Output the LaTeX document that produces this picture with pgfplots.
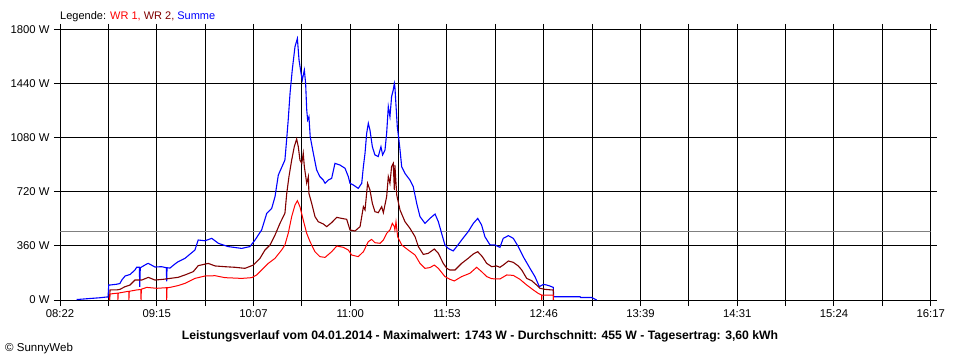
\documentclass[border=0pt]{standalone}
\usepackage{fontspec}
\setmainfont{Liberation Sans}
\usepackage{pgfplots}
\pgfplotsset{compat=1.18}
\definecolor{wrone}{RGB}{255,0,0}
\definecolor{wrtwo}{RGB}{128,0,0}
\definecolor{summe}{RGB}{0,0,255}
\definecolor{avg}{RGB}{128,128,128}
\begin{document}
\begin{tikzpicture}[font=\fontsize{11bp}{13bp}\selectfont]
\useasboundingbox (0,0) rectangle (960bp,360bp);
\begin{axis}[
  at={(60bp,60bp)}, anchor=south west,
  scale only axis, width=870.7bp, height=270bp,
  xmin=502, xmax=977, ymin=0, ymax=1800,
  xtick={502,554.78,607.56,660.33,713.11,765.89,818.67,871.44,924.22,977},
  xticklabels={08:22,09:15,10:07,11:00,11:53,12:46,13:39,14:31,15:24,16:17},
  minor xtick={528.39,581.17,633.94,686.72,739.5,792.28,845.06,897.83,950.61},
  ytick={0,360,720,1080,1440,1800},
  yticklabels={0 W,360 W,720 W,1080 W,1440 W,1800 W},
  /pgf/number format/assume math mode=true,
  xmajorgrids, xminorgrids, ymajorgrids,
  grid style={black, line width=1bp},
  minor grid style={black, line width=1bp},
  axis line style={black, line width=1bp},
  tick style={black, line width=1bp},
  tick align=outside,
  major tick length=6bp, minor tick length=6bp,
  ticklabel style={font=\fontsize{11.3bp}{13bp}\selectfont},
  yticklabel style={xshift=-1bp},
  clip=true,
]
\addplot[avg, line width=1bp, forget plot] coordinates {(502,455) (977,455)};
\addplot[summe, line width=1.1bp] coordinates {
(511.1,3) (518.4,10) (523.8,15) (527.5,20) (528.2,20) (528.6,100) (529.3,100) (532.9,105)
(534.7,110) (535.7,133) (537.5,160) (540.2,170) (542.9,200) (543.8,218) (545.3,218) (545.5,87) (545.8,215)
(549.3,240) (550.2,244) (553.8,220) (557.5,222) (560.0,215) (560.2,125) (560.4,215) (562.0,213)
(564.7,240) (566.4,255) (570.2,278) (575.6,333) (577.4,400) (581.1,395) (584.8,411) (588.4,378)
(593.8,356) (601.1,344) (605.6,356) (608.4,400) (612.0,467) (614.8,578) (617.5,611) (619.3,689)
(621.1,833) (624.7,933) (625.7,1078) (626.5,1200) (627.5,1378) (628.7,1533) (630.2,1689) (631.5,1743)
(632.4,1600) (633.5,1511) (634.2,1467) (635.3,1533) (636.0,1444) (636.6,1267) (637.1,1200) (637.8,1222)
(638.5,1089) (640.2,978) (642.0,867) (643.8,822) (645.6,800) (646.6,778) (648.4,800) (650.2,811)
(652.0,911) (654.7,900) (657.5,878) (659.3,822) (660.2,778) (662.0,767) (664.7,744) (666.6,778)
(667.5,889) (668.4,978) (669.3,1111) (670.2,1178) (671.1,1133) (672.4,1022) (673.8,967) (675.6,956)
(677.1,1022) (678.0,967) (679.3,1000) (680.2,1111) (681.1,1289) (682.0,1222) (682.9,1356) (683.8,1400)
(684.4,1444) (684.7,1420) (686.0,1156) (686.9,1067) (687.5,1000) (688.4,889) (690.2,844) (692.9,800)
(694.7,756) (696.6,644) (698.4,556) (701.1,511) (703.8,544) (706.6,573) (708.4,522) (710.2,444)
(712.0,367) (713.8,344) (716.5,327) (718.4,356) (721.1,400) (724.7,456) (727.5,511) (729.9,544)
(732.0,500) (733.8,422) (736.6,367) (739.3,367) (742.0,351) (743.8,411) (746.6,429) (749.3,411)
(752.0,356) (754.7,289) (758.4,211) (761.1,156) (763.5,89) (765.7,104) (767.5,100) (769.3,93)
(771.1,84) (771.3,22) (785.7,22) (786.0,17) (792.0,17) (794.8,0)
};
\addplot[wrtwo, line width=1.1bp] coordinates {
(529.0,0) (529.3,67) (532.9,67) (534.7,71) (537.5,89) (540.2,100) (542.9,133) (546.6,133) (550.2,151)
(553.8,133) (558.4,138) (562.0,144) (566.4,151) (570.2,167) (574.7,189) (577.4,229) (582.9,244)
(586.6,227) (592.0,222) (597.5,218) (602.9,211) (607.5,233) (611.1,278) (613.8,333) (616.6,367)
(619.3,433) (622.0,511) (624.7,578) (625.7,711) (626.9,822) (628.4,933) (629.8,1022) (631.1,1073)
(632.0,1022) (632.9,933) (633.9,911) (634.7,978) (635.3,889) (636.6,778) (637.5,822) (637.8,711)
(639.3,644) (641.1,556) (642.9,522) (645.6,507) (647.5,489) (650.2,516) (653.0,551) (655.7,544)
(658.4,538) (660.2,467) (662.9,460) (665.7,489) (667.5,622) (668.4,600) (669.8,778) (671.1,733)
(672.4,644) (673.8,589) (675.6,582) (677.5,622) (678.4,582) (680.2,689) (681.1,822) (682.0,778)
(682.9,889) (683.8,911) (684.4,733) (684.7,900) (685.7,700) (687.5,600) (690.2,522) (692.9,478)
(695.7,422) (697.5,356) (700.2,304) (702.9,311) (706.2,340) (708.4,311) (711.1,244) (713.0,211)
(714.7,200) (717.5,200) (721.1,244) (724.7,278) (727.5,307) (729.9,322) (732.4,289) (734.8,244)
(737.5,222) (740.2,227) (742.0,218) (743.8,233) (746.6,260) (749.3,251) (752.0,227) (753.9,200)
(756.6,144) (759.3,129) (762.0,100) (763.8,78) (766.6,71) (770.2,67) (771.1,67) (771.2,0)
};
\addplot[wrone, line width=1bp] coordinates {
(529.0,0) (529.3,40) (532.9,45) (533.5,45) (533.6,0) (533.8,46) (538.4,56) (539.5,58) (539.6,0) (539.8,58)
(543.8,67) (546.1,70) (546.2,0) (546.4,72) (549.3,84) (554.8,78) (560.1,82) (560.2,0) (560.4,82)
(562.0,84) (566.4,96) (570.2,111) (575.6,144) (581.1,160) (586.6,162) (592.0,149) (601.1,144)
(606.6,149) (609.3,167) (612.9,211) (615.6,244) (619.3,278) (622.9,333) (624.7,367) (626.5,444)
(628.4,556) (630.2,633) (631.5,662) (632.9,622) (634.7,533) (636.6,444) (638.4,389) (641.1,322)
(643.8,289) (646.6,284) (650.2,322) (653.0,360) (656.6,351) (659.3,333) (661.1,300) (664.7,289)
(667.5,322) (670.2,389) (672.0,404) (673.8,382) (676.6,378) (678.4,400) (680.2,444) (682.0,467)
(683.3,511) (684.4,489) (684.7,467) (685.3,522) (686.2,422) (688.4,367) (692.0,333) (695.7,300)
(698.4,244) (701.1,211) (703.8,216) (706.2,233) (708.4,211) (712.0,156) (714.7,138) (717.1,127)
(721.1,156) (725.6,178) (729.3,218) (732.0,189) (734.8,156) (737.5,142) (742.0,140) (745.7,167)
(749.3,164) (752.9,138) (756.6,100) (760.2,67) (762.9,44) (764.7,33) (764.8,0) (764.9,33) (769.3,33)
(771.1,33) (771.2,0)
};
\end{axis}
\node[anchor=west, inner sep=0pt] at (60bp,343bp) {Legende: \textcolor{wrone}{WR 1,} \textcolor{wrtwo}{WR 2,} \textcolor{summe}{Summe}};
\node[anchor=center, inner sep=0pt, font=\fontsize{12.2bp}{14bp}\selectfont\bfseries] at (480bp,23.3bp) {Leistungsverlauf vom 04.01.2014 - Maximalwert: 1743 W - Durchschnitt: 455 W - Tagesertrag: 3,60 kWh};
\node[anchor=west, inner sep=0pt, font=\fontsize{11.5bp}{13bp}\selectfont] at (5bp,11bp) {© SunnyWeb};
\end{tikzpicture}
\end{document}
